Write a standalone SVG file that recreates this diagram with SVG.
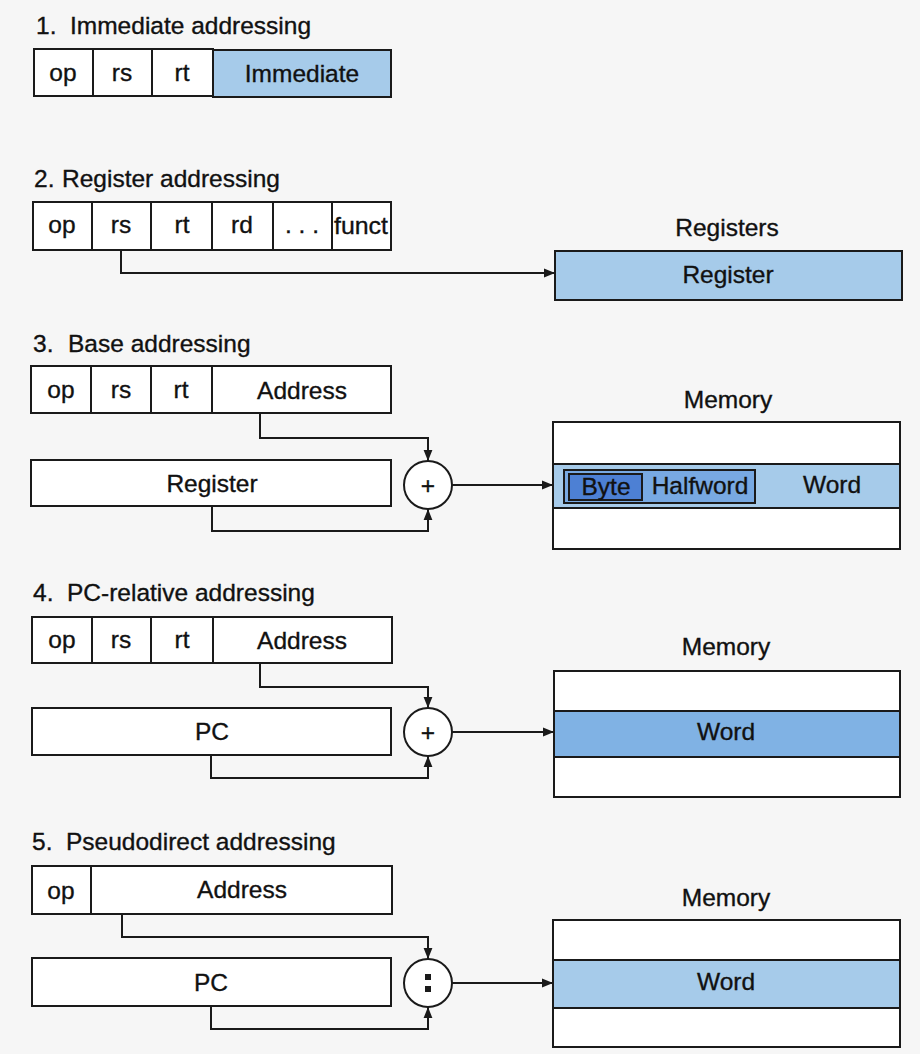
<svg xmlns="http://www.w3.org/2000/svg" width="920" height="1054" viewBox="0 0 920 1054">
<style>
text{font-family:"Liberation Sans",Arial,sans-serif;font-size:24.5px;fill:#111;stroke:#111;stroke-width:0.35}
.c{text-anchor:middle}
.b{fill:#fff;stroke:#1a1a1a;stroke-width:2}
.blue{fill:#a6cbea;stroke:#1a1a1a;stroke-width:2}
.blue2{fill:#80b2e4;stroke:#1a1a1a;stroke-width:2}
.hw{fill:#78a9e2;stroke:#1a1a1a;stroke-width:2}
.byte{fill:#4d80d4;stroke:#1a1a1a;stroke-width:2}
.ln{fill:none;stroke:#1a1a1a;stroke-width:2}
.w{fill:none;stroke:#1a1a1a;stroke-width:2}
</style>
<defs>
<marker id="ah" viewBox="0 0 10 10" refX="10" refY="5" markerWidth="5.5" markerHeight="5.5" orient="auto" markerUnits="strokeWidth">
<path d="M0,1 L10,5 L0,9 z" fill="#1a1a1a"/>
</marker>
</defs>
<rect x="0" y="0" width="920" height="1054" fill="#f6f6f6"/>

<g id="sec1">
<text x="36" y="34">1.<tspan x="70">Immediate addressing</tspan></text>
<rect class="b" x="34" y="49" width="179" height="47"/>
<rect class="blue" x="213" y="50" width="178" height="47"/>
<line class="w" x1="93" y1="49" x2="93" y2="96"/>
<line class="w" x1="152" y1="49" x2="152" y2="96"/>
<text class="c" x="63" y="81">op</text>
<text class="c" x="122" y="81">rs</text>
<text class="c" x="182" y="81">rt</text>
<text class="c" x="302" y="82">Immediate</text>
</g>

<g id="sec2-instr">
<text x="34" y="187">2.<tspan x="62">Register addressing</tspan></text>
<rect class="b" x="33" y="202" width="358" height="48"/>
<line class="w" x1="92" y1="202" x2="92" y2="250"/>
<line class="w" x1="151" y1="202" x2="151" y2="250"/>
<line class="w" x1="212" y1="202" x2="212" y2="250"/>
<line class="w" x1="273" y1="202" x2="273" y2="250"/>
<line class="w" x1="332" y1="202" x2="332" y2="250"/>
<text class="c" x="62" y="233">op</text>
<text class="c" x="121" y="233">rs</text>
<text class="c" x="182" y="233">rt</text>
<text class="c" x="242" y="233">rd</text>
<text class="c" x="302" y="233">. . .</text>
<text class="c" x="361" y="234" textLength="54" lengthAdjust="spacingAndGlyphs">funct</text>
</g>
<g id="sec2-registers">
<text class="c" x="727" y="236">Registers</text>
<rect class="blue" x="555" y="251" width="347" height="49"/>
<text class="c" x="728" y="283">Register</text>
</g>

<g id="sec3-instr">
<text x="33" y="352">3.<tspan x="68">Base addressing</tspan></text>
<rect class="b" x="31" y="366" width="360" height="47"/>
<line class="w" x1="91" y1="366" x2="91" y2="413"/>
<line class="w" x1="151" y1="366" x2="151" y2="413"/>
<line class="w" x1="212" y1="366" x2="212" y2="413"/>
<text class="c" x="61" y="398">op</text>
<text class="c" x="121" y="398">rs</text>
<text class="c" x="181" y="398">rt</text>
<text class="c" x="302" y="399">Address</text>
</g>
<g id="sec3-register">
<rect class="b" x="31" y="460" width="360" height="46"/>
<text class="c" x="212" y="492">Register</text>
</g>
<g id="sec3-adder">
<circle class="b" cx="428" cy="485" r="24"/>
<text class="c" x="428" y="494">+</text>
</g>
<g id="sec3-memory">
<text class="c" x="728" y="408">Memory</text>
<rect class="b" x="553" y="422" width="347" height="127"/>
<rect class="blue" x="553" y="464" width="347" height="44"/>
<rect class="hw" x="564" y="470" width="191" height="33"/>
<rect class="byte" x="569" y="474" width="73" height="26"/>
<text class="c" x="606" y="495">Byte</text>
<text class="c" x="700" y="494">Halfword</text>
<text class="c" x="832" y="493">Word</text>
</g>

<g id="sec4-instr">
<text x="33" y="601">4.<tspan x="67">PC-relative addressing</tspan></text>
<rect class="b" x="32" y="617" width="360" height="46"/>
<line class="w" x1="92" y1="617" x2="92" y2="663"/>
<line class="w" x1="151" y1="617" x2="151" y2="663"/>
<line class="w" x1="213" y1="617" x2="213" y2="663"/>
<text class="c" x="62" y="648">op</text>
<text class="c" x="121" y="648">rs</text>
<text class="c" x="182" y="648">rt</text>
<text class="c" x="302" y="649">Address</text>
</g>
<g id="sec4-pc">
<rect class="b" x="32" y="708" width="359" height="47"/>
<text class="c" x="212" y="740">PC</text>
</g>
<g id="sec4-adder">
<circle class="b" cx="428" cy="732" r="24"/>
<text class="c" x="428" y="741">+</text>
</g>
<g id="sec4-memory">
<text class="c" x="726" y="655">Memory</text>
<rect class="b" x="554" y="671" width="346" height="126"/>
<rect class="blue2" x="554" y="711" width="346" height="46"/>
<text class="c" x="726" y="740">Word</text>
</g>

<g id="sec5-instr">
<text x="32" y="850">5.<tspan x="66">Pseudodirect addressing</tspan></text>
<rect class="b" x="32" y="866" width="360" height="48"/>
<line class="w" x1="91" y1="866" x2="91" y2="914"/>
<text class="c" x="61" y="899">op</text>
<text class="c" x="242" y="898">Address</text>
</g>
<g id="sec5-pc">
<rect class="b" x="32" y="958" width="359" height="48"/>
<text class="c" x="211" y="991">PC</text>
</g>
<g id="sec5-concat">
<circle class="b" cx="428" cy="983" r="24"/>
<rect x="425" y="974" width="6" height="6" fill="#1a1a1a"/>
<rect x="425" y="986" width="6" height="6" fill="#1a1a1a"/>
</g>
<g id="sec5-memory">
<text class="c" x="726" y="906">Memory</text>
<rect class="b" x="553" y="920" width="347" height="127"/>
<rect class="blue" x="553" y="960" width="347" height="48"/>
<text class="c" x="726" y="990">Word</text>
</g>

<g id="connectors">
<path class="ln" d="M121,250 V273 H555" marker-end="url(#ah)"/>
<path class="ln" d="M260,413 V438 H428 V461" marker-end="url(#ah)"/>
<path class="ln" d="M212,506 V531 H428 V509" marker-end="url(#ah)"/>
<path class="ln" d="M452,485 H553" marker-end="url(#ah)"/>
<path class="ln" d="M260,663 V687 H428 V708" marker-end="url(#ah)"/>
<path class="ln" d="M211,755 V778 H428 V756" marker-end="url(#ah)"/>
<path class="ln" d="M452,732 H554" marker-end="url(#ah)"/>
<path class="ln" d="M122,914 V937 H428 V959" marker-end="url(#ah)"/>
<path class="ln" d="M211,1006 V1029 H428 V1007" marker-end="url(#ah)"/>
<path class="ln" d="M452,983 H553" marker-end="url(#ah)"/>
</g>
</svg>
